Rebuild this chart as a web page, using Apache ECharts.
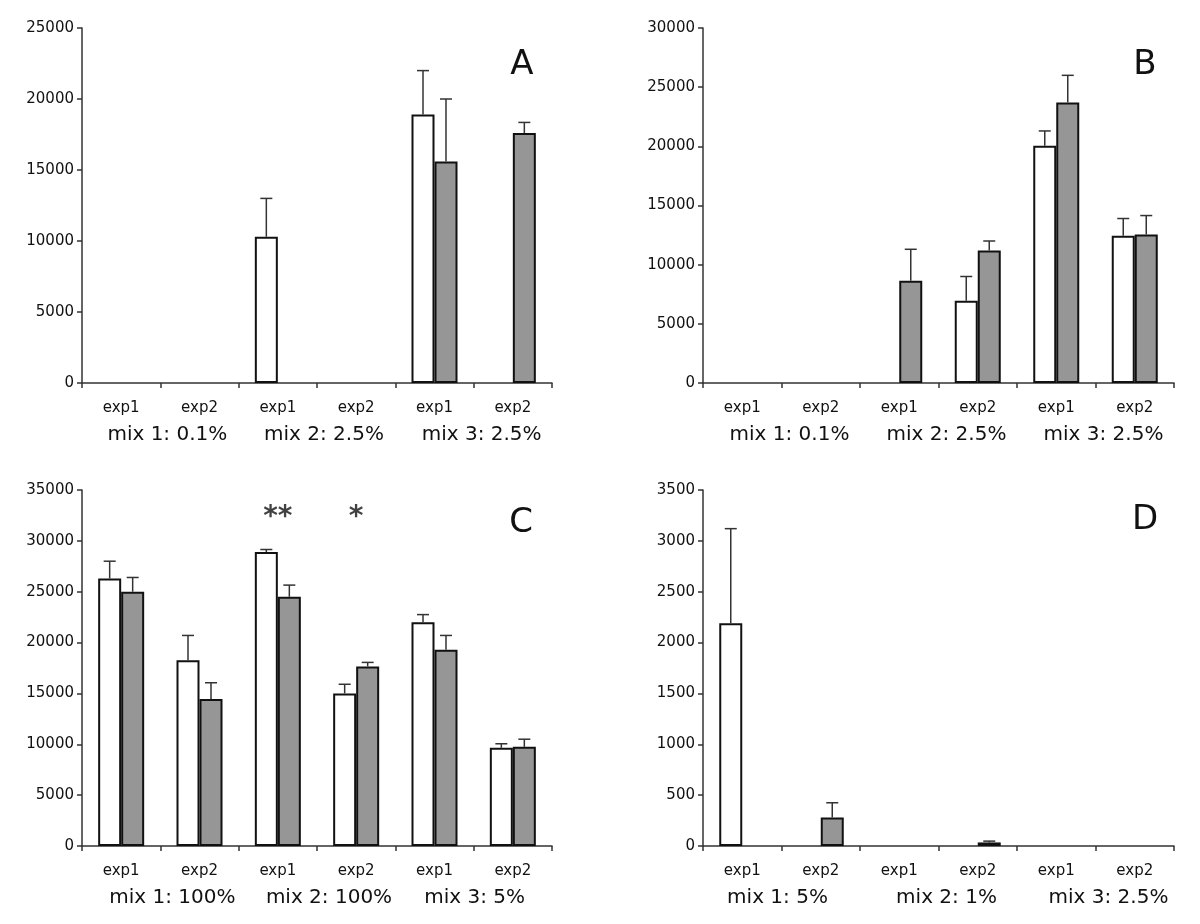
<!DOCTYPE html>
<html>
<head>
<meta charset="utf-8">
<script src="https://cdn.jsdelivr.net/npm/echarts@6/dist/echarts.min.js"></script>
<style>html,body{margin:0;padding:0;background:#fff}#c{width:1200px;height:924px}</style>
</head>
<body>
<div id="c"></div>
<script>
// ---- data ----
const categories = ['exp1', 'exp2', 'exp1', 'exp2', 'exp1', 'exp2'];

const groupsA = ['mix 1: 0.1%', 'mix 2: 2.5%', 'mix 3: 2.5%'];
const whiteA = [null, null, 10300, null, 18900, null];
const whiteErrA = [null, null, 13000, null, 22000, null];
const grayA = [null, null, null, null, 15600, 17600];
const grayErrA = [null, null, null, null, 20000, 18350];

const groupsB = ['mix 1: 0.1%', 'mix 2: 2.5%', 'mix 3: 2.5%'];
const whiteB = [null, null, null, 6950, 20050, 12450];
const whiteErrB = [null, null, null, 9000, 21300, 13900];
const grayB = [null, null, 8650, 11200, 23700, 12550];
const grayErrB = [null, null, 11300, 12000, 26000, 14150];

const groupsC = ['mix 1: 100%', 'mix 2: 100%', 'mix 3: 5%'];
const whiteC = [26300, 18250, 28900, 15000, 22000, 9650];
const whiteErrC = [28000, 20700, 29150, 15900, 22750, 10050];
const grayC = [25000, 14450, 24500, 17650, 19300, 9750];
const grayErrC = [26400, 16050, 25650, 18050, 20700, 10500];
const starsC = [[2, 32300, '**'], [3, 32300, '*']];

const groupsD = ['mix 1: 5%', 'mix 2: 1%', 'mix 3: 2.5%'];
const whiteD = [2190, null, null, null, null, null];
const whiteErrD = [3120, null, null, null, null, null];
const grayD = [null, 280, null, 35, null, null];
const grayErrD = [null, 425, null, 48, null, null];

const yMax = [25000, 30000, 35000, 3500];
const yStep = [5000, 5000, 5000, 500];
const letters = ['A', 'B', 'C', 'D'];

// ---- layout ----
const FONT = '"DejaVu Sans", "Liberation Sans", Arial, sans-serif';
const BAR_W = 23;
const grids = [
  {left: 82, top: 28, width: 470, height: 355},
  {left: 703, top: 28, width: 471, height: 355},
  {left: 82, top: 490, width: 470, height: 356},
  {left: 703, top: 490, width: 471, height: 356}
];
const letterPos = [[522, 65], [1145, 65], [521, 523], [1145, 520]];
// horizontal shift (px) of each group label from its group centre
const groupShift = [[7, 7, 8], [8, 8, 8], [12, 12, 1], [-4, 8, 13]];

const panels = [
  {groups: groupsA, white: whiteA, whiteErr: whiteErrA, gray: grayA, grayErr: grayErrA},
  {groups: groupsB, white: whiteB, whiteErr: whiteErrB, gray: grayB, grayErr: grayErrB},
  {groups: groupsC, white: whiteC, whiteErr: whiteErrC, gray: grayC, grayErr: grayErrC, stars: starsC},
  {groups: groupsD, white: whiteD, whiteErr: whiteErrD, gray: grayD, grayErr: grayErrD}
];

const xAxis = [], yAxis = [], series = [];
function errData(vals, errs) {
  const out = [];
  vals.forEach((v, i) => { if (v != null && errs[i] != null) out.push([i, v, errs[i]]); });
  return out;
}
function errRender(dx) {
  return function (params, api) {
    const p0 = api.coord([api.value(0), api.value(1)]);
    const p1 = api.coord([api.value(0), api.value(2)]);
    const x = p0[0] + dx;
    const st = {stroke: '#333', lineWidth: 1.5};
    return {
      type: 'group',
      children: [
        {type: 'line', shape: {x1: x, y1: p0[1], x2: x, y2: p1[1]}, style: st},
        {type: 'line', shape: {x1: x - 6, y1: p1[1], x2: x + 6, y2: p1[1]}, style: st}
      ]
    };
  };
}

panels.forEach((p, i) => {
  const rich = {};
  groupShift[i].forEach((s, k) => {
    rich['s' + k] = {fontSize: 20, color: '#111', fontFamily: FONT,
      padding: s >= 0 ? [0, 0, 0, 2 * s] : [0, -2 * s, 0, 0]};
  });
  xAxis.push({
    type: 'category', gridIndex: i, data: categories, position: 'bottom',
    axisLine: {lineStyle: {color: '#333', width: 1.5}},
    axisTick: {show: true, length: 5, alignWithLabel: false, lineStyle: {color: '#333', width: 1.5}},
    axisLabel: {interval: 0, fontSize: 15, color: '#111', margin: 18, fontFamily: FONT},
    splitLine: {show: false}
  });
  xAxis.push({
    type: 'category', gridIndex: i, data: p.groups, position: 'bottom',
    axisLine: {show: false}, axisTick: {show: false},
    axisLabel: {interval: 0, margin: 42, formatter: (v, k) => '{s' + k + '|' + v + '}', rich},
    splitLine: {show: false}
  });
  yAxis.push({
    type: 'value', gridIndex: i, min: 0, max: yMax[i], interval: yStep[i],
    axisLine: {show: true, lineStyle: {color: '#333', width: 1.5}},
    axisTick: {show: true, length: 5, lineStyle: {color: '#333', width: 1.5}},
    axisLabel: {fontSize: 15, color: '#111', margin: 8, fontFamily: FONT, formatter: v => String(v)},
    splitLine: {show: false}
  });
  const xi = 2 * i;
  series.push({
    type: 'bar', xAxisIndex: xi, yAxisIndex: i, data: p.white, barWidth: BAR_W, barGap: '0%',
    itemStyle: {color: '#ffffff', borderColor: '#111', borderWidth: 2}, silent: true
  });
  series.push({
    type: 'bar', xAxisIndex: xi, yAxisIndex: i, data: p.gray, barWidth: BAR_W, barGap: '0%',
    itemStyle: {color: '#969696', borderColor: '#111', borderWidth: 2}, silent: true
  });
  series.push({
    type: 'custom', xAxisIndex: xi, yAxisIndex: i, data: errData(p.white, p.whiteErr),
    renderItem: errRender(-BAR_W / 2), silent: true, z: 5
  });
  series.push({
    type: 'custom', xAxisIndex: xi, yAxisIndex: i, data: errData(p.gray, p.grayErr),
    renderItem: errRender(BAR_W / 2), silent: true, z: 5
  });
  if (p.stars) {
    series.push({
      type: 'scatter', xAxisIndex: xi, yAxisIndex: i, symbolSize: 1,
      itemStyle: {color: 'transparent'},
      data: p.stars.map(s => ({value: [s[0], s[1]], name: s[2]})),
      label: {show: true, position: 'inside', formatter: d => d.name, fontSize: 28,
        fontWeight: 'bold', color: '#111', fontFamily: FONT},
      silent: true
    });
  }
});

const graphic = letters.map((t, i) => ({
  type: 'text', x: letterPos[i][0], y: letterPos[i][1],
  style: {text: t, fontSize: 34, fill: '#111', fontFamily: FONT, align: 'center', verticalAlign: 'middle'}
}));

const chart = echarts.init(document.getElementById('c'), null, {renderer: 'canvas'});
chart.setOption({
  animation: false,
  backgroundColor: '#fff',
  grid: grids.map(g => Object.assign({containLabel: false}, g)),
  xAxis, yAxis, series, graphic
});
</script>
</body>
</html>
